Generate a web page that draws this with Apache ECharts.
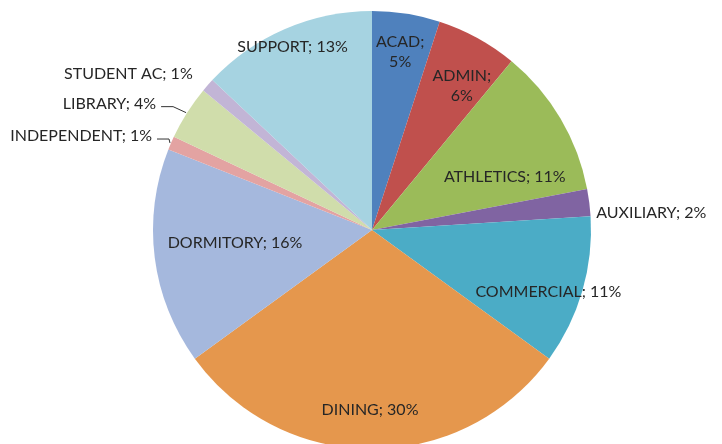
<!DOCTYPE html>
<html>
<head>
<meta charset="utf-8">
<script src="https://cdn.jsdelivr.net/npm/echarts@6/dist/echarts.min.js"></script>
<style>
  html, body { margin: 0; padding: 0; background: #fff; }
  #main { width: 722px; height: 444px; }
</style>
</head>
<body>
<div id="main"></div>
<script>
// data, clockwise from 12 o'clock
const categories = ['ACAD', 'ADMIN', 'ATHLETICS', 'AUXILIARY', 'COMMERCIAL', 'DINING', 'DORMITORY', 'INDEPENDENT', 'LIBRARY', 'STUDENT AC', 'SUPPORT']
const values = [5, 6, 11, 2, 11, 30, 16, 1, 4, 1, 13]

const colors = ['#4F81BD', '#C0504D', '#9BBB59', '#8064A2', '#4BACC6', '#E5974D', '#A5B8DD', '#E3A3A2', '#D0DDAB', '#C2B5D6', '#A6D3E1']

// label placement (style only)
const cx = 372, cy = 230, R = 219
const innerR = [180, 174, 145, null, 166, 180, 132, null, null, null, 200]
const innerShift = { 1: [6, 8], 2: [8, 21], 4: [17, 16], 6: [-6, -4], 5: [-2, 0] }
const twoLine = [true, true]
const outside = {
  3: { dx: 7, dy: 10, line: false },
  7: { dx: -19, dy: -7, line: true },
  8: { dx: -31, dy: -9, line: true },
  9: { dx: -15, dy: -11, line: false },
}

const total = values.reduce((a, b) => a + b, 0)
function midAngle(i) {
  let before = 0
  for (let k = 0; k < i; k++) before += values[k]
  return ((before + values[i] / 2) / total) * Math.PI * 2
}

var myChart = echarts.init(document.getElementById('main'))

const data = categories.map((name, i) => ({
  name: name,
  value: values[i],
  itemStyle: { color: colors[i] },
  label: {
    formatter: twoLine[i] ? '{b};\n{c}%' : '{b}; {c}%',
  },
  labelLine: { show: !!(outside[i] && outside[i].line) },
}))

var option = {
  animation: false,
  backgroundColor: '#ffffff',
  series: [
    {
      type: 'pie',
      center: [cx, cy],
      radius: R,
      startAngle: 90,
      clockwise: true,
      avoidLabelOverlap: false,
      label: {
        show: true,
        position: 'outside',
        fontFamily: 'Lato',
        fontSize: 16,
        lineHeight: 20,
        color: '#262626',
      },
      labelLine: {
        length: 5,
        length2: 5,
        lineStyle: { color: '#333', width: 1 },
      },
      labelLayout: function (p) {
        const i = p.dataIndex
        const a = midAngle(i)
        const s = Math.sin(a), c = Math.cos(a)
        if (innerR[i]) {
          const sh = innerShift[i] || [0, 0]
          return {
            x: cx + innerR[i] * s + sh[0],
            y: cy - innerR[i] * c + sh[1],
            align: 'center',
            verticalAlign: 'middle',
          }
        }
        const o = outside[i]
        const ex = cx + R * s, ey = cy - R * c
        const lx = ex + o.dx, ly = ey + o.dy
        const res = {
          x: lx,
          y: ly,
          align: o.dx < 0 ? 'right' : 'left',
          verticalAlign: 'middle',
        }
        if (o.line) {
          res.labelLinePoints = [
            [ex - 1, ey],
            [lx + 17, ly + 3],
            [lx + 5, ly + 3],
          ]
        }
        return res
      },
      data: data,
    },
  ],
}

option && myChart.setOption(option)
</script>
</body>
</html>
